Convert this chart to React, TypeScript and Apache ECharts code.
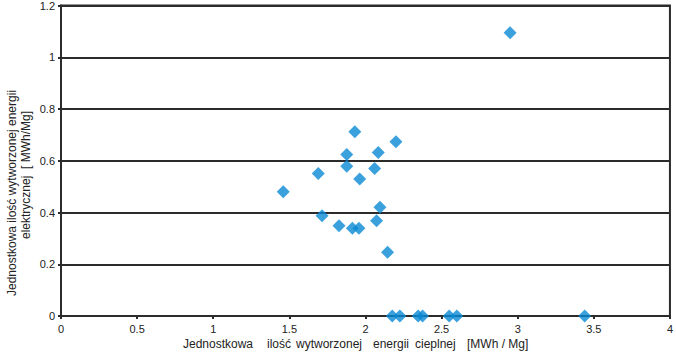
import React, { useEffect, useRef } from "react";
import * as echarts from "echarts";

const xTicks = [0, 0.5, 1, 1.5, 2, 2.5, 3, 3.5, 4];
const yTicks = [0, 0.2, 0.4, 0.6, 0.8, 1, 1.2];

const heatValues = [
  1.46, 1.69, 1.93, 2.2, 1.877, 2.084, 1.877, 2.06, 1.962, 1.715, 2.095, 2.073,
  1.826, 1.914, 1.957, 2.145, 2.176, 2.226, 2.346, 2.375, 2.55, 2.6, 3.44, 2.95,
];
const electricValues = [
  0.48, 0.551, 0.712, 0.673, 0.624, 0.632, 0.579, 0.57, 0.529, 0.387, 0.42, 0.368,
  0.349, 0.339, 0.339, 0.246, 0, 0, 0, 0, 0, 0, 0, 1.095,
];

const xTitleWords = ["Jednostkowa", "ilość", "wytworzonej", "energii", "cieplnej", "[MWh / Mg]"];
const xTitleWordX = [183, 267, 296, 373, 415, 467];
const yTitleLines = ["Jednostkowa ilość wytworzonej energii", "elektrycznej  [ MWh/Mg]"];

export default function App() {
  const ref = useRef<HTMLDivElement>(null);
  useEffect(() => {
    if (!ref.current) return;
    const chart = echarts.init(ref.current, null, { renderer: "svg" });
    const font = "'Liberation Sans', Arial, sans-serif";
    const lineColor = "#2b2b2b";
    const textColor = "#222";
    const data = heatValues.map((x, i) => [x, electricValues[i]]);
    chart.setOption({
      animation: false,
      backgroundColor: "#fff",
      grid: {
        left: 61,
        right: 4,
        top: 5,
        bottom: 40,
        show: true,
        borderColor: lineColor,
        borderWidth: 2,
        backgroundColor: "transparent",
      },
      xAxis: {
        type: "value",
        min: 0,
        max: 4,
        interval: 0.5,
        axisLine: { show: true, lineStyle: { color: lineColor, width: 2 } },
        axisTick: { show: true, length: 3, lineStyle: { color: lineColor, width: 2 } },
        splitLine: { show: false },
        axisLabel: {
          color: textColor,
          fontFamily: font,
          fontSize: 11,
          margin: 7,
          formatter: (v: number) => (xTicks.includes(v) ? String(v) : ""),
        },
      },
      yAxis: {
        type: "value",
        min: 0,
        max: 1.2,
        interval: 0.2,
        axisLine: { show: true, lineStyle: { color: lineColor, width: 2 } },
        axisTick: { show: true, length: 3, lineStyle: { color: lineColor, width: 2 } },
        splitLine: { show: true, lineStyle: { color: lineColor, width: 2 } },
        axisLabel: {
          color: textColor,
          fontFamily: font,
          fontSize: 11,
          margin: 6,
          formatter: (v: number) => {
            const t = yTicks.find((y) => Math.abs(y - v) < 1e-6);
            return t === undefined ? "" : String(t);
          },
        },
      },
      series: [
        {
          type: "scatter",
          symbol: "diamond",
          symbolSize: 13,
          itemStyle: { color: "#0a8ad4" },
          data,
        },
      ],
      graphic: [
        ...xTitleWords.map((w, i) => ({
          type: "text",
          left: xTitleWordX[i],
          top: 338,
          style: { text: w, fill: textColor, font: `12px ${font}` },
        })),
        {
          type: "text",
          x: 12,
          y: 193,
          rotation: Math.PI / 2,
          style: {
            text: yTitleLines[0],
            fill: textColor,
            font: `12px ${font}`,
            align: "center",
            verticalAlign: "middle",
          },
        },
        {
          type: "text",
          x: 26,
          y: 175,
          rotation: Math.PI / 2,
          style: {
            text: yTitleLines[1],
            fill: textColor,
            font: `12px ${font}`,
            align: "center",
            verticalAlign: "middle",
          },
        },
      ],
    });
    return () => chart.dispose();
  }, []);
  return <div ref={ref} style={{ width: 676, height: 356, position: "absolute", left: 0, top: 0 }} />;
}
